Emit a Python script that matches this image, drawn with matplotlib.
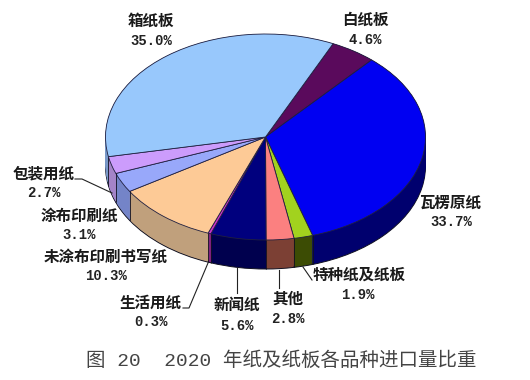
import numpy as np
import matplotlib
matplotlib.use("Agg")
import matplotlib.pyplot as plt

categories = ["白纸板", "瓦楞原纸", "特种纸及纸板", "其他", "新闻纸", "生活用纸",
              "未涂布印刷书写纸", "涂布印刷纸", "包装用纸", "箱纸板"]
values = [4.6, 33.7, 1.9, 2.8, 5.6, 0.3, 10.3, 3.1, 2.7, 35.0]
top_colors = ["#5a0a5c", "#0000f2", "#a2d21e", "#fb8080", "#00007e", "#cc33cc",
              "#fdca96", "#98a8fa", "#cc9cfc", "#98c8fc"]
side_colors = ["#3a0640", "#00006e", "#3c4c04", "#7c4034", "#00004e", "#802080",
               "#c0a07c", "#7484c8", "#a484c8", "#7898c8"]
title = "图 20  2020 年纸及纸板各品种进口量比重"

W, H = 530, 380
CX, CY, A, B, DEPTH = 265.5, 137, 160, 103, 29
START = 65
fig = plt.figure(figsize=(W / 100, H / 100), dpi=100, facecolor="white")

ax = fig.add_axes([0, 0, 1, 1])
d = DEPTH / B
ax.pie(values, colors=side_colors, startangle=START, counterclock=False, center=(0, -d),
       wedgeprops=dict(edgecolor="#101020", linewidth=0.7))
for off in np.linspace(-d, 0, 30)[1:]:
    ax.pie(values, colors=side_colors, startangle=START, counterclock=False, center=(0, off),
           wedgeprops=dict(edgecolor="none", linewidth=0))
# seams on the visible side wall
ang = START - np.cumsum(values) * 3.6
for a in ang:
    s = np.sin(np.radians(a))
    if s < 0:
        c = np.cos(np.radians(a))
        ax.plot([c, c], [s, s - d], color="#101020", lw=0.6, solid_capstyle="butt")
ax.pie(values, colors=top_colors, startangle=START, counterclock=False, center=(0, 0),
       wedgeprops=dict(edgecolor="#202040", linewidth=0.6))
ax.set_aspect("auto")
ax.set_xlim(-CX / A, (W - CX) / A)
ax.set_ylim(-(H - CY) / B, CY / B)
ax.axis("off")

ov = fig.add_axes([0, 0, 1, 1])
ov.set_xlim(0, W)
ov.set_ylim(H, 0)
ov.axis("off")
ov.patch.set_alpha(0)

cjk = ["Noto Sans CJK SC", "DejaVu Sans"]
mono = ["Liberation Mono", "Noto Sans CJK SC"]
label_pos = [(365, 20), (450, 203), (359, 275), (288, 299), (237, 305), (151, 303),
             (106, 257), (79, 216), (44, 174), (151, 21)]
pct_pos = [(365, 40), (451, 222), (358, 295), (288, 319), (237, 326), (151, 322),
           (106, 276), (79, 235), (44, 193), (151, 41)]
for name, v, p, q in zip(categories, values, label_pos, pct_pos):
    ov.text(*p, name, family=cjk, fontsize=11.2, fontweight="bold", color="#1a1a1a",
            ha="center", va="center")
    ov.text(*q, f"{v:.1f}%", family=mono, fontsize=10, fontweight="bold", color="#222222",
            ha="center", va="center")

leaders = [[(75, 179), (82, 179), (112, 193)],
           [(183, 308), (189, 308), (208, 263)],
           [(237, 268), (237, 293)],
           [(279, 270), (279, 288)],
           [(303, 267), (312, 280)]]
for seg in leaders:
    xs, ys = zip(*seg)
    ov.plot(xs, ys, color="#222222", lw=0.8)

ov.text(281, 361, title, family=["Liberation Mono", "Noto Sans CJK SC"], fontsize=14,
        color="#444444", ha="center", va="center")

fig.savefig("out.png", dpi=100)
